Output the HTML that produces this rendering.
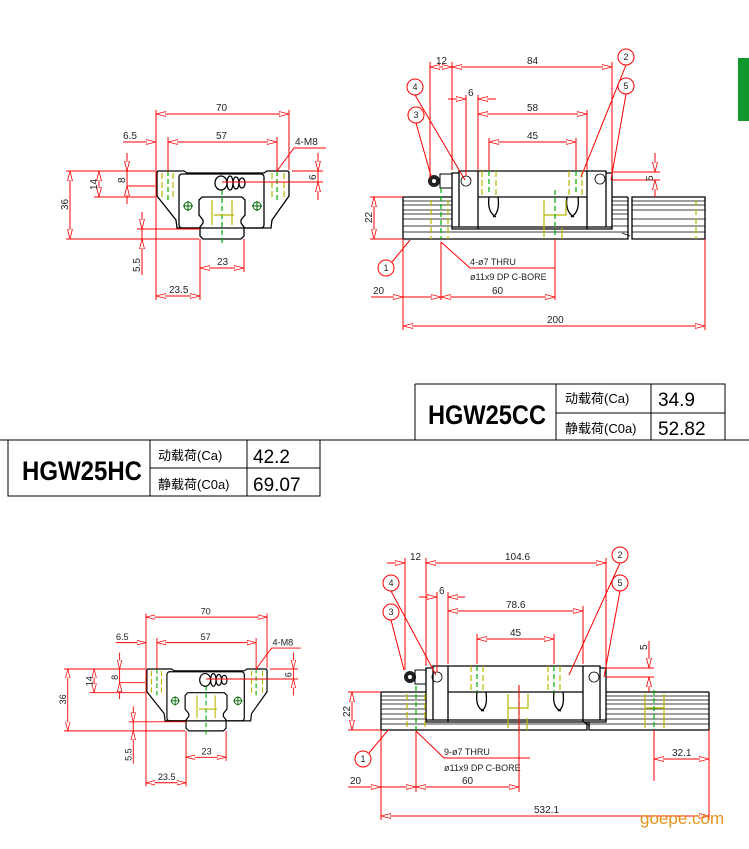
<!DOCTYPE html>
<html><head><meta charset="utf-8"><style>
html,body{margin:0;padding:0;background:#fff;}
svg{display:block;}
.d{stroke:#ff0000;stroke-width:1;fill:none;}
.k{stroke:#000;stroke-width:1.3;fill:none;}
.kt{stroke:#000;stroke-width:0.8;fill:none;}
.y{stroke:#b8b800;stroke-width:1.2;fill:none;stroke-dasharray:6 3;}
.g{stroke:#00b000;stroke-width:1.2;fill:none;stroke-dasharray:5 3;}
.t{font-family:"Liberation Sans",sans-serif;font-size:10px;fill:#222;}
.c{stroke:#ff0000;stroke-width:1;fill:#fff;}
.ct{font-family:"Liberation Sans",sans-serif;font-size:9px;fill:#222;text-anchor:middle;}
.big{font-family:"Liberation Sans",sans-serif;font-weight:bold;font-size:27px;fill:#000;}
.cj{font-family:"Liberation Sans","Noto Sans CJK SC",sans-serif;font-size:13px;fill:#000;}
.num{font-family:"Liberation Sans",sans-serif;font-size:19px;fill:#000;}
</style></head><body>
<svg width="749" height="849" viewBox="0 0 749 849" xmlns="http://www.w3.org/2000/svg">
<defs>
<marker id="a" viewBox="0 0 10 6" refX="10" refY="3" markerWidth="10" markerHeight="6" markerUnits="userSpaceOnUse" orient="auto-start-reverse">
<path d="M10,3 L0,0.5 L0,5.5 Z" fill="#fff" stroke="#ff0000" stroke-width="0.8"/>
</marker>
</defs>
<rect x="738" y="58" width="11" height="63" fill="#11982c"/>

<!-- ===== TOP-LEFT END VIEW ===== -->
<g>
<path class="k" d="M157,173 Q157,171 159,171 L184,171 L187,173 L264,173 L267,171 L287,171 Q289,171 289,173 L289,196 L272,220 L271,228 L245,228"/>
<path class="k" d="M157,173 L157,196 L176,220 L177,228 L200,228"/>
<rect class="k" x="179" y="174" width="85" height="54" rx="3"/>
<path class="k" d="M203,239 L200,236 L200,227 L203,223 L203,220 L199,215 L199,200 L202,197 L242,197 L245,200 L245,215 L241,220 L241,223 L244,227 L244,236 L241,239 Z"/>
<line class="y" x1="162" y1="173" x2="162" y2="197"/><line class="y" x1="173" y1="173" x2="173" y2="200"/>
<line class="y" x1="272" y1="173" x2="272" y2="200"/><line class="y" x1="284" y1="173" x2="284" y2="197"/>
<line class="g" x1="168" y1="171" x2="168" y2="200"/><line class="g" x1="277" y1="171" x2="277" y2="200"/>
<line class="g" x1="222" y1="190" x2="222" y2="245"/>
<path class="y" d="M212,200 L212,225 M232,200 L232,225 M214,215 L234,215" style="stroke-dasharray:none"/>
<ellipse class="k" cx="221" cy="183" rx="6" ry="7"/>
<ellipse class="k" cx="230" cy="183" rx="3" ry="7"/><ellipse class="k" cx="236" cy="183" rx="3" ry="6"/><ellipse class="k" cx="242" cy="183" rx="3" ry="5"/>
<circle cx="188" cy="206" r="4" fill="none" stroke="#006600"/><path d="M183,206 H193 M188,201 V211" stroke="#006600"/>
<circle cx="257" cy="206" r="4" fill="none" stroke="#006600"/><path d="M252,206 H262 M257,201 V211" stroke="#006600"/>
<path class="d" d="M156,110 V300 M289,110 V170 M168,137 V172 M277,137 V172 M200,239 V300 M244,239 V272"/>
<line class="d" x1="156" y1="114" x2="289" y2="114" marker-start="url(#a)" marker-end="url(#a)"/>
<text class="t" x="216" y="111">70</text>
<line class="d" x1="123" y1="142" x2="156" y2="142" marker-end="url(#a)"/>
<line class="d" x1="168" y1="142" x2="277" y2="142" marker-start="url(#a)" marker-end="url(#a)"/>
<text class="t" x="123" y="139">6.5</text><text class="t" x="216" y="139">57</text>
<path class="d" d="M277,171 L294,148 L326,148"/><text class="t" x="295" y="145">4-M8</text>
<path class="d" d="M66,171 H155 M66,239 H199 M94,197 H155 M127,186 H155 M137,229 H200 M292,171 H323 M222,182 H323"/>
<line class="d" x1="70" y1="171" x2="70" y2="239" marker-start="url(#a)" marker-end="url(#a)"/>
<text class="t" transform="translate(68,210) rotate(-90)">36</text>
<line class="d" x1="99" y1="171" x2="99" y2="197" marker-start="url(#a)" marker-end="url(#a)"/>
<text class="t" transform="translate(97,190) rotate(-90)">14</text>
<line class="d" x1="127" y1="153" x2="127" y2="171" marker-end="url(#a)"/>
<line class="d" x1="127" y1="171" x2="127" y2="186"/>
<line class="d" x1="127" y1="204" x2="127" y2="186" marker-end="url(#a)"/>
<text class="t" transform="translate(125,183) rotate(-90)">8</text>
<line class="d" x1="318" y1="153" x2="318" y2="171" marker-end="url(#a)"/>
<line class="d" x1="318" y1="200" x2="318" y2="182" marker-end="url(#a)"/>
<line class="d" x1="318" y1="171" x2="318" y2="182"/>
<text class="t" transform="translate(316,180) rotate(-90)">6</text>
<line class="d" x1="142" y1="212" x2="142" y2="229" marker-end="url(#a)"/>
<line class="d" x1="142" y1="275" x2="142" y2="239" marker-end="url(#a)"/>
<line class="d" x1="142" y1="229" x2="142" y2="239"/>
<text class="t" transform="translate(140,272) rotate(-90)">5.5</text>
<line class="d" x1="200" y1="268" x2="244" y2="268" marker-start="url(#a)" marker-end="url(#a)"/>
<text class="t" x="217" y="265">23</text>
<line class="d" x1="156" y1="296" x2="200" y2="296" marker-start="url(#a)" marker-end="url(#a)"/>
<text class="t" x="169" y="293">23.5</text>
</g>

<!-- ===== BOTTOM-LEFT END VIEW ===== -->
<g transform="translate(146,669) scale(0.91) translate(-156,-171)">
<path class="k" d="M157,173 Q157,171 159,171 L184,171 L187,173 L264,173 L267,171 L287,171 Q289,171 289,173 L289,196 L272,220 L271,228 L245,228"/>
<path class="k" d="M157,173 L157,196 L176,220 L177,228 L200,228"/>
<rect class="k" x="179" y="174" width="85" height="54" rx="3"/>
<path class="k" d="M203,239 L200,236 L200,227 L203,223 L203,220 L199,215 L199,200 L202,197 L242,197 L245,200 L245,215 L241,220 L241,223 L244,227 L244,236 L241,239 Z"/>
<line class="y" x1="162" y1="173" x2="162" y2="197"/><line class="y" x1="173" y1="173" x2="173" y2="200"/>
<line class="y" x1="272" y1="173" x2="272" y2="200"/><line class="y" x1="284" y1="173" x2="284" y2="197"/>
<line class="g" x1="168" y1="171" x2="168" y2="200"/><line class="g" x1="277" y1="171" x2="277" y2="200"/>
<line class="g" x1="222" y1="190" x2="222" y2="245"/>
<path class="y" d="M212,200 L212,225 M232,200 L232,225 M214,215 L234,215" style="stroke-dasharray:none"/>
<ellipse class="k" cx="221" cy="183" rx="6" ry="7"/>
<ellipse class="k" cx="230" cy="183" rx="3" ry="7"/><ellipse class="k" cx="236" cy="183" rx="3" ry="6"/><ellipse class="k" cx="242" cy="183" rx="3" ry="5"/>
<circle cx="188" cy="206" r="4" fill="none" stroke="#006600"/><path d="M183,206 H193 M188,201 V211" stroke="#006600"/>
<circle cx="257" cy="206" r="4" fill="none" stroke="#006600"/><path d="M252,206 H262 M257,201 V211" stroke="#006600"/>
<path class="d" d="M156,110 V300 M289,110 V170 M168,137 V172 M277,137 V172 M200,239 V300 M244,239 V272"/>
<line class="d" x1="156" y1="114" x2="289" y2="114" marker-start="url(#a)" marker-end="url(#a)"/>
<text class="t" x="216" y="111">70</text>
<line class="d" x1="123" y1="142" x2="156" y2="142" marker-end="url(#a)"/>
<line class="d" x1="168" y1="142" x2="277" y2="142" marker-start="url(#a)" marker-end="url(#a)"/>
<text class="t" x="123" y="139">6.5</text><text class="t" x="216" y="139">57</text>
<path class="d" d="M277,171 L294,148 L326,148"/><text class="t" x="295" y="145">4-M8</text>
<path class="d" d="M66,171 H155 M66,239 H199 M94,197 H155 M127,186 H155 M137,229 H200 M292,171 H323 M222,182 H323"/>
<line class="d" x1="70" y1="171" x2="70" y2="239" marker-start="url(#a)" marker-end="url(#a)"/>
<text class="t" transform="translate(68,210) rotate(-90)">36</text>
<line class="d" x1="99" y1="171" x2="99" y2="197" marker-start="url(#a)" marker-end="url(#a)"/>
<text class="t" transform="translate(97,190) rotate(-90)">14</text>
<line class="d" x1="127" y1="153" x2="127" y2="171" marker-end="url(#a)"/>
<line class="d" x1="127" y1="171" x2="127" y2="186"/>
<line class="d" x1="127" y1="204" x2="127" y2="186" marker-end="url(#a)"/>
<text class="t" transform="translate(125,183) rotate(-90)">8</text>
<line class="d" x1="318" y1="153" x2="318" y2="171" marker-end="url(#a)"/>
<line class="d" x1="318" y1="200" x2="318" y2="182" marker-end="url(#a)"/>
<line class="d" x1="318" y1="171" x2="318" y2="182"/>
<text class="t" transform="translate(316,180) rotate(-90)">6</text>
<line class="d" x1="142" y1="212" x2="142" y2="229" marker-end="url(#a)"/>
<line class="d" x1="142" y1="275" x2="142" y2="239" marker-end="url(#a)"/>
<line class="d" x1="142" y1="229" x2="142" y2="239"/>
<text class="t" transform="translate(140,272) rotate(-90)">5.5</text>
<line class="d" x1="200" y1="268" x2="244" y2="268" marker-start="url(#a)" marker-end="url(#a)"/>
<text class="t" x="217" y="265">23</text>
<line class="d" x1="156" y1="296" x2="200" y2="296" marker-start="url(#a)" marker-end="url(#a)"/>
<text class="t" x="169" y="293">23.5</text>
</g>

<!-- ===== TOP-RIGHT SIDE VIEW ===== -->
<g>
<path class="kt" d="M403,197 H452 M403,201 H452 M403,205 H452 M403,210 H452 M403,214 H452 M403,219 H452 M403,226 H452 M612,197 H628 M612,201 H628 M612,205 H628 M612,210 H628 M612,214 H628 M612,219 H628 M612,226 H628 M403,232 H628 M632,201 H705 M632,205 H705 M632,210 H705 M632,219 H705 M632,226 H705 M632,232 H705"/>
<path class="k" d="M403,197 V239 H628 V197 M403,197 H452 M612,197 H628 M632,197 V239 H705 V197 Z"/>
<path class="kt" d="M622,233 L630,236"/>
<path class="k" d="M452,173 H459 V171 H606 V173 H612 V229 H452 Z M459,173 V227 M606,173 V227 M478,171 V229 M587,171 V229 M478,197 H587 M452,227 H612"/>
<path class="k" d="M489,197 Q487,212 496,217 M498,197 Q500,212 493,217 M567,197 Q565,212 574,217 M578,197 Q580,212 571,217" stroke-width="1"/>
<circle class="kt" cx="466" cy="181" r="5" stroke-width="1"/><circle class="kt" cx="600" cy="179" r="5" stroke-width="1"/>
<circle cx="434" cy="181" r="6" fill="#222"/><circle cx="434" cy="181" r="2" fill="#fff"/>
<rect x="440" y="174" width="12" height="14" fill="none" stroke="#000"/>
<line class="y" x1="482" y1="171" x2="482" y2="195"/><line class="y" x1="496" y1="171" x2="496" y2="195"/>
<line class="y" x1="569" y1="171" x2="569" y2="195"/><line class="y" x1="582" y1="171" x2="582" y2="195"/>
<line class="g" x1="489" y1="171" x2="489" y2="195"/><line class="g" x1="576" y1="171" x2="576" y2="195"/>
<line class="y" x1="431" y1="200" x2="431" y2="239"/><line class="y" x1="448" y1="200" x2="448" y2="239"/>
<path class="y" d="M544,200 V237 M544,215 H566 V200 M562,228 V239" style="stroke-dasharray:none"/>
<line class="y" x1="696" y1="200" x2="696" y2="239"/>
<line class="g" x1="441" y1="188" x2="441" y2="239"/><line class="g" x1="555" y1="190" x2="555" y2="239"/>
<path class="d" d="M430,62 V178 M452,62 V170 M612,62 V172 M466,95 V176 M478,95 V170 M587,110 V170 M489,138 V170 M576,138 V170 M612,172 H660 M612,180 H660 M370,197 H403 M370,239 H403 M441,242 V300 M555,239 V300 M403,239 V330 M705,239 V330"/>
<line class="d" x1="430" y1="67" x2="452" y2="67" marker-start="url(#a)" marker-end="url(#a)"/>
<line class="d" x1="452" y1="67" x2="612" y2="67" marker-start="url(#a)" marker-end="url(#a)"/>
<text class="t" x="436" y="64">12</text><text class="t" x="527" y="64">84</text>
<line class="d" x1="448" y1="99" x2="466" y2="99" marker-end="url(#a)"/>
<line class="d" x1="496" y1="99" x2="478" y2="99" marker-end="url(#a)"/>
<text class="t" x="468" y="96">6</text>
<line class="d" x1="478" y1="114" x2="587" y2="114" marker-start="url(#a)" marker-end="url(#a)"/>
<text class="t" x="527" y="111">58</text>
<line class="d" x1="489" y1="142" x2="576" y2="142" marker-start="url(#a)" marker-end="url(#a)"/>
<text class="t" x="527" y="139">45</text>
<line class="d" x1="655" y1="153" x2="655" y2="172" marker-end="url(#a)"/>
<line class="d" x1="655" y1="197" x2="655" y2="180" marker-end="url(#a)"/>
<text class="t" transform="translate(653,181) rotate(-90)">5</text>
<line class="d" x1="374" y1="197" x2="374" y2="239" marker-start="url(#a)" marker-end="url(#a)"/>
<text class="t" transform="translate(372,223) rotate(-90)">22</text>
<path class="d" d="M441,242 L470,268 H555"/>
<text class="t" x="470" y="265" style="font-size:9px">4-ø7 THRU</text>
<text class="t" x="470" y="280" style="font-size:9px">ø11x9 DP C-BORE</text>
<line class="d" x1="371" y1="297" x2="403" y2="297" marker-end="url(#a)"/>
<line class="d" x1="403" y1="297" x2="441" y2="297" marker-end="url(#a)"/>
<line class="d" x1="441" y1="297" x2="555" y2="297" marker-start="url(#a)" marker-end="url(#a)"/>
<text class="t" x="373" y="294">20</text><text class="t" x="492" y="294">60</text>
<line class="d" x1="403" y1="326" x2="705" y2="326" marker-start="url(#a)" marker-end="url(#a)"/>
<text class="t" x="547" y="323">200</text>
<path class="d" d="M392,262 L410,240 M626,65 L581,177 M416,123 L431,176 M415,95 L465,180 M626,94 L611,180"/>
<circle class="c" cx="386" cy="268" r="8"/><text class="ct" x="386" y="271">1</text>
<circle class="c" cx="626" cy="57" r="8"/><text class="ct" x="626" y="60">2</text>
<circle class="c" cx="416" cy="115" r="8"/><text class="ct" x="416" y="118">3</text>
<circle class="c" cx="415" cy="87" r="8"/><text class="ct" x="415" y="90">4</text>
<circle class="c" cx="626" cy="86" r="8"/><text class="ct" x="626" y="89">5</text>
</g>

<!-- ===== TABLES ===== -->
<path stroke="#000" stroke-width="1" fill="none" d="M415,384 H725 V440 M415,384 V440 M556,384 V440 M651,384 V440 M556,413 H725 M0,440 H749 M8,440 V496 H320 V440 M150,440 V496 M247,440 V496 M150,468 H320"/>
<text class="big" x="428" y="424" textLength="118" lengthAdjust="spacingAndGlyphs">HGW25CC</text>
<text class="cj" x="565" y="403">动载荷(Ca)</text>
<text class="cj" x="565" y="433">静载荷(C0a)</text>
<text class="num" x="658" y="406">34.9</text>
<text class="num" x="658" y="435">52.82</text>
<text class="big" x="22" y="480" textLength="120" lengthAdjust="spacingAndGlyphs">HGW25HC</text>
<text class="cj" x="158" y="460">动载荷(Ca)</text>
<text class="cj" x="158" y="489">静载荷(C0a)</text>
<text class="num" x="253" y="463">42.2</text>
<text class="num" x="253" y="491">69.07</text>

<!-- ===== BOTTOM-RIGHT SIDE VIEW ===== -->
<g>
<path class="kt" d="M381,696 H426 M381,700 H426 M381,704 H426 M381,709 H426 M381,714 H426 M381,719 H426 M606,696 H709 M606,700 H709 M606,704 H709 M606,709 H709 M606,714 H709 M606,719 H709 M381,724 H587 M589,724 H709"/>
<path class="k" d="M381,692 V730 H587 V722 M589,722 V730 H709 V692 M381,692 H426 M606,692 H709"/>
<path class="kt" d="M582,721 L590,726"/>
<path class="k" d="M426,668 H433 V666 H600 V668 H606 V722 H426 Z M433,668 V720 M600,668 V720 M448,666 V722 M583,666 V722 M448,692 H583 M426,720 H606"/>
<path class="k" d="M477,692 Q475,708 484,711 M486,692 Q488,708 481,711 M554,692 Q552,708 561,711 M563,692 Q565,708 558,711" stroke-width="1"/>
<circle class="kt" cx="437" cy="677" r="5" stroke-width="1"/><circle class="kt" cx="594" cy="677" r="5" stroke-width="1"/>
<circle cx="410" cy="677" r="6" fill="#222"/><circle cx="410" cy="677" r="2" fill="#fff"/>
<rect x="415" y="670" width="11" height="14" fill="none" stroke="#000"/>
<line class="y" x1="471" y1="666" x2="471" y2="690"/><line class="y" x1="483" y1="666" x2="483" y2="690"/>
<line class="y" x1="548" y1="666" x2="548" y2="690"/><line class="y" x1="560" y1="666" x2="560" y2="690"/>
<line class="g" x1="477" y1="666" x2="477" y2="692"/><line class="g" x1="554" y1="666" x2="554" y2="692"/>
<line class="y" x1="407" y1="694" x2="407" y2="730"/><line class="y" x1="425" y1="694" x2="425" y2="730"/>
<path class="y" d="M508,694 V728 M508,708 H528 V694 M527,718 V730 M645,694 V728 M664,694 V728 M646,708 H664" style="stroke-dasharray:none"/>
<line class="g" x1="416" y1="686" x2="416" y2="730"/><line class="g" x1="519" y1="686" x2="519" y2="730"/><line class="g" x1="654" y1="690" x2="654" y2="730"/>
<path class="d" d="M405,558 V670 M426,558 V666 M606,558 V668 M437,592 V672 M448,592 V664 M583,606 V664 M477,634 V664 M554,634 V664 M606,668 H654 M606,677 H654 M348,692 H381 M348,730 H381 M416,731 V792 M519,685 V792 M654,730 V781 M381,730 V820 M709,730 V820"/>
<line class="d" x1="387" y1="563" x2="405" y2="563" marker-end="url(#a)"/>
<line class="d" x1="426" y1="563" x2="606" y2="563" marker-start="url(#a)" marker-end="url(#a)"/>
<text class="t" x="410" y="560">12</text><text class="t" x="505" y="560">104.6</text>
<line class="d" x1="419" y1="597" x2="437" y2="597" marker-end="url(#a)"/>
<line class="d" x1="465" y1="597" x2="448" y2="597" marker-end="url(#a)"/>
<text class="t" x="439" y="594">6</text>
<line class="d" x1="448" y1="611" x2="583" y2="611" marker-start="url(#a)" marker-end="url(#a)"/>
<text class="t" x="506" y="608">78.6</text>
<line class="d" x1="477" y1="639" x2="554" y2="639" marker-start="url(#a)" marker-end="url(#a)"/>
<text class="t" x="510" y="636">45</text>
<line class="d" x1="649" y1="641" x2="649" y2="668" marker-end="url(#a)"/>
<line class="d" x1="649" y1="692" x2="649" y2="677" marker-end="url(#a)"/>
<text class="t" transform="translate(647,650) rotate(-90)">5</text>
<line class="d" x1="352" y1="692" x2="352" y2="730" marker-start="url(#a)" marker-end="url(#a)"/>
<text class="t" transform="translate(350,717) rotate(-90)">22</text>
<path class="d" d="M416,731 L444,758 H530"/>
<text class="t" x="444" y="755" style="font-size:9px">9-ø7 THRU</text>
<text class="t" x="444" y="771" style="font-size:9px">ø11x9 DP C-BORE</text>
<line class="d" x1="654" y1="759" x2="709" y2="759" marker-start="url(#a)" marker-end="url(#a)"/>
<text class="t" x="672" y="756">32.1</text>
<line class="d" x1="348" y1="787" x2="381" y2="787" marker-end="url(#a)"/>
<line class="d" x1="381" y1="787" x2="416" y2="787" marker-end="url(#a)"/>
<line class="d" x1="416" y1="787" x2="519" y2="787" marker-start="url(#a)" marker-end="url(#a)"/>
<text class="t" x="350" y="784">20</text><text class="t" x="462" y="784">60</text>
<line class="d" x1="381" y1="816" x2="709" y2="816" marker-start="url(#a)" marker-end="url(#a)"/>
<text class="t" x="534" y="813">532.1</text>
<path class="d" d="M369,753 L389,729 M620,563 L569,675 M391,620 L404,670 M391,591 L436,675 M620,591 L604,677"/>
<circle class="c" cx="363" cy="759" r="8"/><text class="ct" x="363" y="762">1</text>
<circle class="c" cx="620" cy="555" r="8"/><text class="ct" x="620" y="558">2</text>
<circle class="c" cx="391" cy="612" r="8"/><text class="ct" x="391" y="615">3</text>
<circle class="c" cx="391" cy="583" r="8"/><text class="ct" x="391" y="586">4</text>
<circle class="c" cx="620" cy="583" r="8"/><text class="ct" x="620" y="586">5</text>
</g>
<text x="640" y="824" style="font-family:'Liberation Sans',sans-serif;font-size:17px;fill:#e8941a;">goepe.com</text>
</svg>
</body></html>
